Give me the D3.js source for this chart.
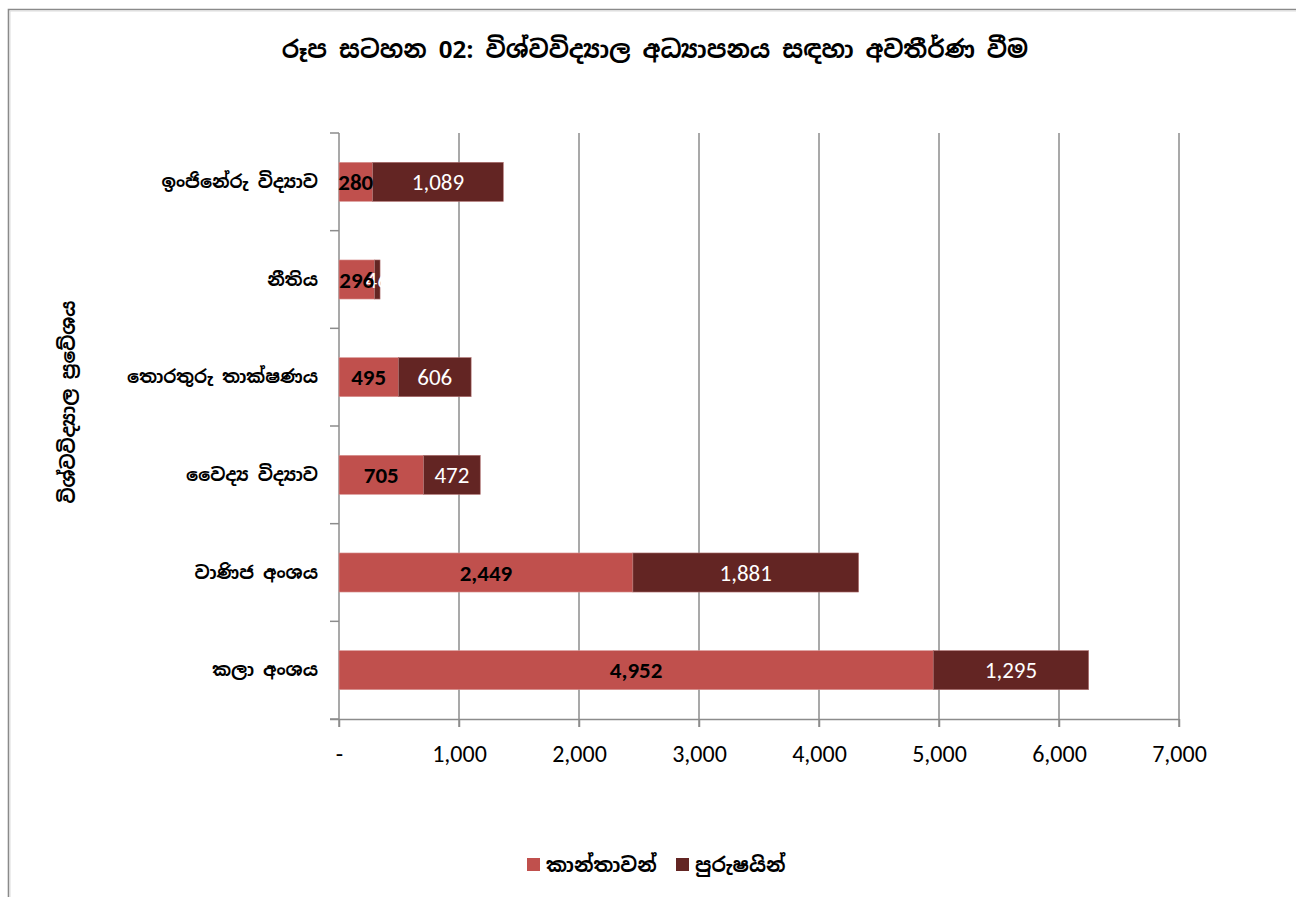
<!DOCTYPE html>
<html>
<head>
<meta charset="utf-8">
<script src="https://cdn.jsdelivr.net/npm/d3@7"></script>
<style>
  html, body { margin: 0; padding: 0; background: #fff; }
  svg { display: block; }
  .sin { font-family: "Noto Sans Sinhala", "Noto Serif Sinhala", "Iskoola Pota", "Noto Sans", sans-serif; }
  .num { font-family: Carlito, Calibri, Lato, "Open Sans", sans-serif; }
</style>
</head>
<body>
<svg id="chart" width="1296" height="897"></svg>
<script>
const categories = ["ඉංජිනේරු විද්‍යාව", "නීතිය", "තොරතුරු තාක්ෂණය", "වෛද්‍ය විද්‍යාව", "වාණිජ අංශය", "කලා අංශය"];
const women = [280, 296, 495, 705, 2449, 4952];
const men = [1089, 46, 606, 472, 1881, 1295];
const seriesNames = ["කාන්තාවන්", "පුරුෂයින්"];
const seriesColors = ["#C0504D", "#632523"];
const xTicks = [0, 1000, 2000, 3000, 4000, 5000, 6000, 7000];
const title = "රූප සටහන 02: විශ්වවිද්‍යාල අධ්‍යාපනය සඳහා අවතීර්ණ වීම";
const yTitle = "විශ්වවිද්‍යාල ප්‍රවේශය";

const svg = d3.select("#chart");
const W = 1296, H = 897;
const plot = { left: 339, right: 1179, top: 133, bottom: 719 };

// frame
svg.append("path").attr("d", `M8.5,${H} L8.5,9.5 L${W},9.5`)
  .attr("fill", "none").attr("stroke", "#8a8a8a").attr("stroke-width", 1.6);
svg.append("path").attr("d", `M10,${H} L10,11 L${W},11`)
  .attr("fill", "none").attr("stroke", "#dcdcdc").attr("stroke-width", 1);

const x = d3.scaleLinear().domain([0, 7000]).range([plot.left, plot.right]);
const y = d3.scaleBand().domain(categories).range([plot.top, plot.bottom]).paddingInner(0.6).paddingOuter(0.3);

// gridlines
svg.append("g").selectAll("line").data(xTicks.slice(1)).join("line")
  .attr("x1", d => x(d)).attr("x2", d => x(d))
  .attr("y1", plot.top).attr("y2", plot.bottom + 8)
  .attr("stroke", "#8c8c8c").attr("stroke-width", 1.5);

// x axis
const xAxis = d3.axisBottom(x).tickValues(xTicks)
  .tickFormat(d => d === 0 ? "-" : d3.format(",")(d)).tickSize(8).tickPadding(18);
const gx = svg.append("g").attr("transform", `translate(0,${plot.bottom})`).call(xAxis);
gx.select(".domain").attr("d", `M${plot.left - 9},0.5H${plot.right}`).attr("stroke", "#8c8c8c").attr("stroke-width", 1.5);
gx.selectAll(".tick line").attr("stroke", "#8c8c8c").attr("stroke-width", 1.5);
gx.selectAll(".tick text").attr("class", "num").attr("font-size", 24).attr("fill", "#000")
  .attr("font-family", "Carlito, Calibri, Lato, 'Open Sans', sans-serif");

// y axis line and category separator ticks
svg.append("line").attr("x1", plot.left).attr("x2", plot.left)
  .attr("y1", plot.top).attr("y2", plot.bottom + 8)
  .attr("stroke", "#8c8c8c").attr("stroke-width", 1.5);
const bounds = d3.range(categories.length + 1).map(i => plot.top + i * (plot.bottom - plot.top) / categories.length);
svg.append("g").selectAll("line").data(bounds).join("line")
  .attr("x1", plot.left - 9).attr("x2", plot.left)
  .attr("y1", d => d).attr("y2", d => d)
  .attr("stroke", "#8c8c8c").attr("stroke-width", 1.5);

// category labels
const bandH = (plot.bottom - plot.top) / categories.length;
svg.append("g").selectAll("text").data(categories).join("text")
  .attr("class", "sin")
  .attr("x", 318).attr("y", (d, i) => plot.top + bandH * (i + 0.5))
  .attr("dy", "0.35em").attr("text-anchor", "end")
  .attr("font-size", 18).attr("font-weight", "bold").attr("fill", "#000")
  .text(d => d);

// bars
const rows = categories.map((c, i) => ({ c, w: women[i], m: men[i] }));
const bh = y.bandwidth();
const yc = (d, i) => plot.top + bandH * (i + 0.5);
svg.append("g").selectAll("rect").data(rows).join("rect")
  .attr("x", x(0)).attr("y", (d, i) => yc(d, i) - bh / 2)
  .attr("width", d => x(d.w) - x(0)).attr("height", bh)
  .attr("fill", seriesColors[0]).attr("stroke", "#d99694").attr("stroke-width", 0.6);
svg.append("g").selectAll("rect").data(rows).join("rect")
  .attr("x", d => x(d.w)).attr("y", (d, i) => yc(d, i) - bh / 2)
  .attr("width", d => x(d.w + d.m) - x(d.w)).attr("height", bh)
  .attr("fill", seriesColors[1]).attr("stroke", "#b07070").attr("stroke-width", 0.6);

// labels: men (white) then women (black bold) on top
const fmt = d3.format(",");
svg.append("g").selectAll("text").data(rows).join("text")
  .attr("class", "num")
  .attr("x", d => (x(d.w) + x(d.w + d.m)) / 2).attr("y", (d, i) => yc(d, i))
  .attr("dy", "0.35em").attr("text-anchor", "middle")
  .attr("font-size", 23).attr("fill", "#fff")
  .text(d => fmt(d.m));
svg.append("g").selectAll("text").data(rows).join("text")
  .attr("class", "num")
  .attr("x", d => (x(0) + x(d.w)) / 2).attr("y", (d, i) => yc(d, i))
  .attr("dy", "0.35em").attr("text-anchor", "middle")
  .attr("font-size", 23).attr("font-weight", "bold").attr("fill", "#000")
  .text(d => fmt(d.w));

// title
svg.append("text").attr("class", "sin")
  .attr("x", 655).attr("y", 50).attr("dy", "0.35em").attr("text-anchor", "middle")
  .attr("font-size", 24).attr("font-weight", "bold").attr("fill", "#000")
  .text(title);

// y title
svg.append("text").attr("class", "sin")
  .attr("transform", "translate(68,402) rotate(-90)")
  .attr("dy", "0.35em").attr("text-anchor", "middle")
  .attr("font-size", 19).attr("font-weight", "bold").attr("fill", "#000")
  .text(yTitle);

// legend
const legX = [527, 676];
const leg = svg.append("g").selectAll("g").data(seriesNames).join("g")
  .attr("transform", (d, i) => `translate(${legX[i]},865)`);
leg.append("rect").attr("x", 0).attr("y", -7).attr("width", 13).attr("height", 13)
  .attr("fill", (d, i) => seriesColors[i]);
leg.append("text").attr("class", "sin").attr("x", 19).attr("y", 0).attr("dy", "0.35em")
  .attr("font-size", 20).attr("font-weight", "bold").attr("fill", "#000")
  .text(d => d);
</script>
</body>
</html>
